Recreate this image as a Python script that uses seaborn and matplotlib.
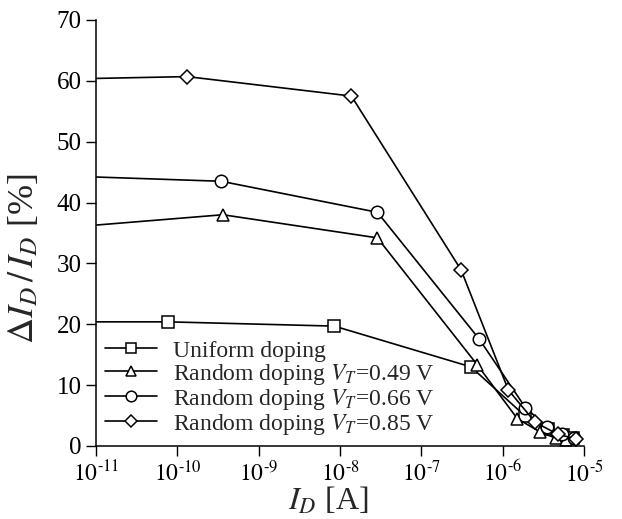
import numpy as np
import pandas as pd
import matplotlib
matplotlib.use("Agg")
import matplotlib.pyplot as plt
from matplotlib.lines import Line2D
import seaborn as sns

sns.set_style("ticks")
plt.rcParams['font.family'] = ['Liberation Serif', 'DejaVu Serif']
plt.rcParams['mathtext.fontset'] = 'stix'

# data (log10 of I_D in A, Delta I_D / I_D in %)
uni_logx = [-11.0, -10.11, -8.07, -6.39, -5.73, -5.44, -5.26, -5.13]
uni_y = [20.4, 20.4, 19.7, 13.0, 5.0, 2.8, 1.8, 1.3]
r49_logx = [-11.0, -9.44, -7.54, -6.31, -5.82, -5.54, -5.35, -5.22]
r49_y = [36.3, 38.0, 34.2, 13.3, 4.5, 2.3, 1.3, 1.0]
r66_logx = [-11.0, -9.46, -7.54, -6.29, -5.72, -5.45, -5.27, -5.12]
r66_y = [44.2, 43.5, 38.4, 17.6, 6.3, 3.1, 2.0, 1.3]
r85_logx = [-11.0, -9.88, -7.86, -6.51, -5.93, -5.60, -5.32, -5.10]
r85_y = [60.4, 60.7, 57.5, 28.9, 9.2, 3.9, 1.9, 1.2]

labels = ["Uniform doping",
          r"Random doping $V_T$=0.49 V",
          r"Random doping $V_T$=0.66 V",
          r"Random doping $V_T$=0.85 V"]
markers = ["s", "^", "o", "D"]
msizes = [8, 9, 9, 7.5]
xtick_exps = [-11, -10, -9, -8, -7, -6, -5]

fig = plt.figure(figsize=(6.22, 5.19), dpi=100)
ax = fig.add_axes([96/622, 1-446/519, (584-96)/622, (446-20)/519])

series = [(uni_logx, uni_y), (r49_logx, r49_y), (r66_logx, r66_y), (r85_logx, r85_y)]
handles = []
for (lx, yy), lab, mk, ms in zip(series, labels, markers, msizes):
    df = pd.DataFrame({"x": 10.0 ** np.array(lx), "y": yy})
    sns.lineplot(data=df, x="x", y="y", ax=ax, color="black", linewidth=1.2,
                 marker=mk, markersize=ms, markerfacecolor="white",
                 markeredgecolor="black", markeredgewidth=1.1,
                 markevery=list(range(1, len(lx))), legend=False)
    handles.append(Line2D([], [], color="black", linewidth=1.2, marker=mk,
                          markersize=ms * 0.85, markerfacecolor="white",
                          markeredgecolor="black", markeredgewidth=1.1, label=lab))

ax.set_xscale("log")
ax.set_xlim(1e-11, 1e-5)
ax.set_ylim(0, 70)
ax.set_yticks(range(0, 71, 10))
ax.set_xticks([10.0 ** k for k in xtick_exps])
ax.set_xticklabels([r"$\mathrm{10}^{\text{-}%d}$" % (-k) for k in xtick_exps])
ax.xaxis.set_minor_locator(matplotlib.ticker.NullLocator())
ax.tick_params(axis="both", which="major", direction="out", length=7.5, width=1,
               colors="black", pad=3)
ax.tick_params(axis="y", labelsize=18)
ax.tick_params(axis="x", labelsize=17)
for s in ["left", "bottom"]:
    ax.spines[s].set_linewidth(1.1)
    ax.spines[s].set_color("black")
sns.despine(ax=ax)

ax.set_xlabel(r"$I_D$ [A]", fontsize=23)
ax.xaxis.set_label_coords(0.475, -0.092)
ax.set_ylabel(r"$\Delta I_D\,/\,I_D$ [%]", fontsize=26)
ax.yaxis.set_label_coords(-0.112, 0.44)

leg = ax.legend(handles=handles, loc="lower left", bbox_to_anchor=(0.0, 0.0),
                frameon=False, fontsize=17, handlelength=2.2, handletextpad=0.65,
                labelspacing=0.0, borderaxespad=0.0, numpoints=1)

fig.savefig("out.png", dpi=100)
